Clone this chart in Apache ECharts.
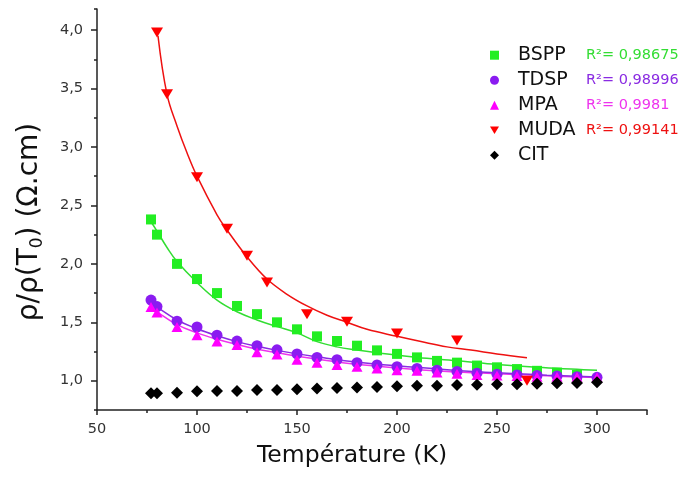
<!DOCTYPE html>
<html>
<head>
<meta charset="utf-8">
<script src="https://cdn.jsdelivr.net/npm/echarts@6/dist/echarts.min.js"></script>
<style>
html,body{margin:0;padding:0;background:#fff;}
#chart{width:682px;height:481px;}
</style>
</head>
<body>
<div id="chart"></div>
<script>
// ---- data ----
const xTicks = [50, 100, 150, 200, 250, 300];
const yTicks = [1.0, 1.5, 2.0, 2.5, 3.0, 3.5, 4.0];

const tBSPP = [77, 80, 90, 100, 110, 120, 130, 140, 150, 160, 170, 180, 190, 200, 210, 220, 230, 240, 250, 260, 270, 280, 290];
const vBSPP = [2.38, 2.25, 2.00, 1.87, 1.75, 1.64, 1.57, 1.50, 1.44, 1.38, 1.34, 1.30, 1.26, 1.23, 1.20, 1.17, 1.155, 1.13, 1.115, 1.10, 1.085, 1.07, 1.05];

const tTDSP = [77, 80, 90, 100, 110, 120, 130, 140, 150, 160, 170, 180, 190, 200, 210, 220, 230, 240, 250, 260, 270, 280, 290, 300];
const vTDSP = [1.69, 1.635, 1.51, 1.46, 1.39, 1.34, 1.30, 1.265, 1.23, 1.20, 1.18, 1.155, 1.135, 1.12, 1.105, 1.09, 1.08, 1.065, 1.055, 1.05, 1.045, 1.04, 1.035, 1.03];

const tMPA = [77, 80, 90, 100, 110, 120, 130, 140, 150, 160, 170, 180, 190, 200, 210, 220, 230, 240, 250, 260, 270, 280, 290, 300];
const vMPA = [1.63, 1.585, 1.46, 1.39, 1.335, 1.305, 1.245, 1.225, 1.18, 1.155, 1.135, 1.12, 1.105, 1.09, 1.085, 1.07, 1.06, 1.05, 1.045, 1.04, 1.035, 1.035, 1.035, 1.03];

const tMUDA = [80, 85, 100, 115, 125, 135, 155, 175, 200, 230, 265];
const vMUDA = [3.98, 3.45, 2.74, 2.30, 2.07, 1.84, 1.57, 1.505, 1.405, 1.345, 1.00];

const tCIT = [77, 80, 90, 100, 110, 120, 130, 140, 150, 160, 170, 180, 190, 200, 210, 220, 230, 240, 250, 260, 270, 280, 290, 300];
const vCIT = [0.893, 0.893, 0.898, 0.91, 0.913, 0.913, 0.921, 0.921, 0.927, 0.933, 0.939, 0.942, 0.946, 0.953, 0.958, 0.958, 0.964, 0.967, 0.97, 0.97, 0.975, 0.978, 0.981, 0.987];

// fit curves
const fitTBSPP = [77, 80, 85, 90, 100, 110, 120, 130, 140, 150, 160, 170, 180, 190, 200, 210, 230, 250, 270, 290, 300];
const fitVBSPP = [2.36, 2.28, 2.14, 2.02, 1.84, 1.69, 1.59, 1.52, 1.463, 1.41, 1.335, 1.29, 1.263, 1.24, 1.22, 1.20, 1.172, 1.14, 1.115, 1.098, 1.09];

const fitTTDSP = [77, 80, 90, 100, 110, 120, 130, 140, 150, 160, 175, 200, 225, 250, 275, 300];
const fitVTDSP = [1.67, 1.63, 1.52, 1.445, 1.385, 1.335, 1.295, 1.26, 1.23, 1.205, 1.17, 1.128, 1.095, 1.068, 1.048, 1.032];

const fitTMPA = [77, 80, 90, 100, 110, 120, 130, 140, 150, 160, 175, 200, 225, 250, 275, 300];
const fitVMPA = [1.63, 1.59, 1.48, 1.41, 1.355, 1.31, 1.27, 1.24, 1.21, 1.185, 1.15, 1.11, 1.08, 1.06, 1.042, 1.027];

const fitTMUDA = [80.5, 85, 90, 95, 100, 110, 115, 125, 135, 145, 155, 165, 175, 185, 200, 212, 225, 237, 250, 265];
const fitVMUDA = [3.95, 3.45, 3.18, 2.95, 2.75, 2.42, 2.29, 2.06, 1.87, 1.74, 1.64, 1.56, 1.50, 1.44, 1.38, 1.335, 1.29, 1.263, 1.23, 1.197];

const names = ['BSPP', 'TDSP', 'MPA', 'MUDA', 'CIT'];
const r2Text = ['R²= 0,98675', 'R²= 0,98996', 'R²= 0,9981', 'R²= 0,99141', ''];

// ---- styling ----
const FONT = 'DejaVu Sans';
const AX = '#222';
const cGreen = '#22ee22', cPurple = '#8a1cf0', cMag = '#ff00ff', cRed = '#ff0000', cBlack = '#000';
const rKeys = ['g', 'p', 'm', 'r', ''];
const downTri = 'path://M0,0 L12,0 L6,10 Z';

function pairs(xs, ys) { return xs.map((x, i) => [x, ys[i]]); }
function comma(v) { return v.toFixed(1).replace('.', ','); }

const chart = echarts.init(document.getElementById('chart'), null, {renderer: 'canvas'});

const gridLeft = 97, gridRight = 35;
const option = {
  backgroundColor: '#fff',
  animation: false,
  grid: [
    {left: gridLeft, right: gridRight, top: 9, bottom: 71},
    {left: gridLeft, right: gridRight, top: 30, bottom: 100.3},
    {left: 147, width: 400, top: 9, bottom: 71}
  ],
  xAxis: [
    {gridIndex: 0, type: 'value', min: 50, max: 325, interval: 50,
     axisLine: {show: true, onZero: false, lineStyle: {color: AX, width: 1.5}},
     axisTick: {show: true, inside: false, length: 5, lineStyle: {color: AX, width: 1.5}},
     splitLine: {show: false},
     axisLabel: {margin: 12, fontFamily: FONT, fontSize: 14.5, color: '#333',
       formatter: v => (xTicks.indexOf(v) >= 0 ? String(v) : '')}},
    {gridIndex: 1, type: 'value', min: 50, max: 325, show: false},
    {gridIndex: 2, type: 'value', min: 75, max: 275, interval: 50,
     axisLine: {show: false, onZero: false},
     axisTick: {show: true, length: 3, lineStyle: {color: AX, width: 1.5}},
     axisLabel: {show: false}, splitLine: {show: false}}
  ],
  yAxis: [
    {gridIndex: 0, type: 'value', min: 0.75, max: 4.18, interval: 0.5,
     axisLine: {show: true, onZero: false, lineStyle: {color: AX, width: 1.5}},
     axisTick: {show: true, length: 3, lineStyle: {color: AX, width: 1.5}},
     axisLabel: {show: false}, splitLine: {show: false}},
    {gridIndex: 1, type: 'value', min: 1, max: 4, interval: 0.5,
     axisLine: {show: false, onZero: false},
     axisTick: {show: true, length: 6, lineStyle: {color: AX, width: 1.5}},
     splitLine: {show: false},
     axisLabel: {margin: 14, fontFamily: FONT, fontSize: 14.5, color: '#333',
       formatter: v => comma(v)}},
    {gridIndex: 2, type: 'value', min: 0.75, max: 4.18, show: false}
  ],
  legend: {
    orient: 'vertical', left: 485, top: 40.7,
    itemWidth: 9, itemHeight: 9, itemGap: 6,
    data: [
      {name: 'BSPP'}, {name: 'TDSP'}, {name: 'MPA'},
      {name: 'MUDA', icon: downTri}, {name: 'CIT'}
    ],
    formatter: function (name) {
      const i = names.indexOf(name);
      return r2Text[i] ? '{n|' + name + '}{' + rKeys[i] + '|' + r2Text[i] + '}' : '{n|' + name + '}';
    },
    textStyle: {
      fontFamily: FONT,
      rich: {
        n: {fontFamily: FONT, fontSize: 19, color: '#111', width: 68, lineHeight: 20, padding: [0, 0, 0, 14]},
        g: {fontFamily: FONT, fontSize: 14.5, color: '#33dd33', lineHeight: 20},
        p: {fontFamily: FONT, fontSize: 14.5, color: '#8a2be2', lineHeight: 20},
        m: {fontFamily: FONT, fontSize: 14.5, color: '#ee33ee', lineHeight: 20},
        r: {fontFamily: FONT, fontSize: 14.5, color: '#ee1111', lineHeight: 20}
      }
    }
  },
  graphic: [
    {type: 'text', left: 355 - 98, top: 444, z: 10,
     style: {text: 'Température (K)', fontFamily: FONT, fontSize: 23.5, fill: '#111'}},
    {type: 'text', x: 30, y: 222, rotation: Math.PI / 2, z: 10,
     style: {
       text: '{a|ρ/ρ(T}{s|0}{a|) (Ω.cm)}', align: 'center', verticalAlign: 'middle',
       rich: {
         a: {fontFamily: FONT, fontSize: 28, fill: '#111', lineHeight: 32},
         s: {fontFamily: FONT, fontSize: 17, fill: '#111', lineHeight: 32, verticalAlign: 'bottom', padding: [13, 0, 0, 0]}
       }
     }}
  ],
  series: [
    {name: 'BSPP fit', type: 'line', xAxisIndex: 0, yAxisIndex: 0, smooth: 0.4, showSymbol: false, silent: true,
     lineStyle: {color: '#33dd33', width: 1.5}, itemStyle: {color: '#33dd33'}, z: 2, data: pairs(fitTBSPP, fitVBSPP)},
    {name: 'MPA fit', type: 'line', xAxisIndex: 0, yAxisIndex: 0, smooth: 0.4, showSymbol: false, silent: true,
     lineStyle: {color: '#ee33ee', width: 1.5}, itemStyle: {color: '#ee33ee'}, z: 2, data: pairs(fitTMPA, fitVMPA)},
    {name: 'TDSP fit', type: 'line', xAxisIndex: 0, yAxisIndex: 0, smooth: 0.4, showSymbol: false, silent: true,
     lineStyle: {color: '#8a2be2', width: 1.5}, itemStyle: {color: '#8a2be2'}, z: 2, data: pairs(fitTTDSP, fitVTDSP)},
    {name: 'MUDA fit', type: 'line', xAxisIndex: 0, yAxisIndex: 0, smooth: 0.4, showSymbol: false, silent: true,
     lineStyle: {color: '#ee1111', width: 1.5}, itemStyle: {color: '#ee1111'}, z: 2, data: pairs(fitTMUDA, fitVMUDA)},
    {name: 'BSPP', type: 'scatter', xAxisIndex: 0, yAxisIndex: 0, symbol: 'rect', symbolSize: 10,
     itemStyle: {color: cGreen, opacity: 1}, z: 3, data: pairs(tBSPP, vBSPP)},
    {name: 'TDSP', type: 'scatter', xAxisIndex: 0, yAxisIndex: 0, symbol: 'circle', symbolSize: 11,
     itemStyle: {color: cPurple, opacity: 1}, z: 3, data: pairs(tTDSP, vTDSP)},
    {name: 'MPA', type: 'scatter', xAxisIndex: 0, yAxisIndex: 0, symbol: 'triangle', symbolSize: [11, 10],
     itemStyle: {color: cMag, opacity: 1}, z: 3, data: pairs(tMPA, vMPA)},
    {name: 'MUDA', type: 'scatter', xAxisIndex: 0, yAxisIndex: 0, symbol: 'triangle', symbolRotate: 180, symbolSize: [12, 10],
     itemStyle: {color: cRed, opacity: 1}, z: 3, data: pairs(tMUDA, vMUDA)},
    {name: 'CIT', type: 'scatter', xAxisIndex: 0, yAxisIndex: 0, symbol: 'diamond', symbolSize: 12,
     itemStyle: {color: cBlack, opacity: 1}, z: 3, data: pairs(tCIT, vCIT)}
  ]
};
chart.setOption(option);
</script>
</body>
</html>
